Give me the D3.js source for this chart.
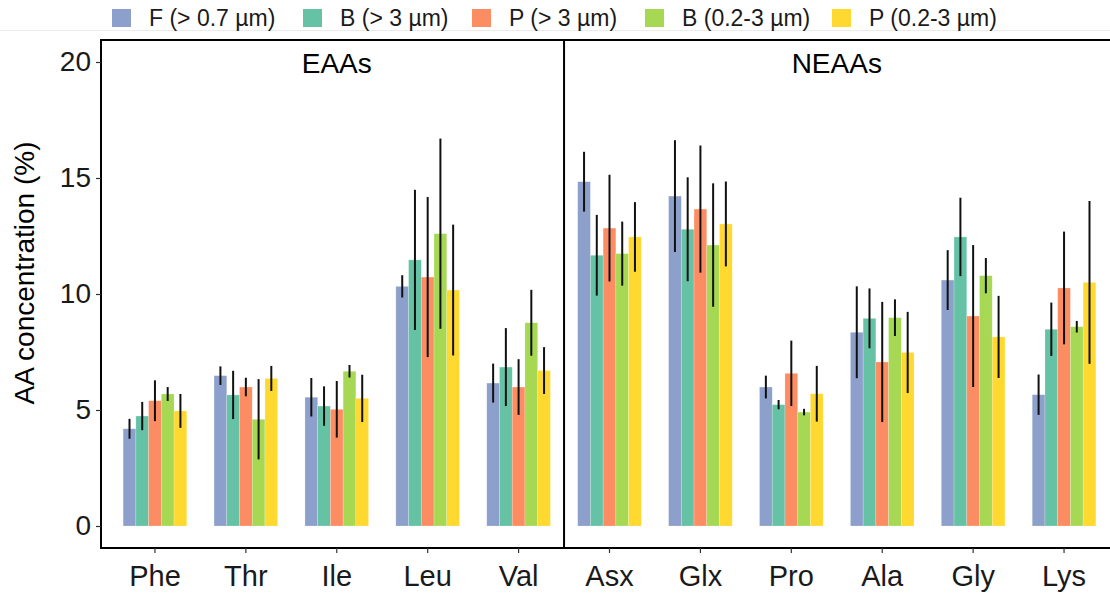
<!DOCTYPE html>
<html>
<head>
<meta charset="utf-8">
<script src="https://cdn.jsdelivr.net/npm/d3@7"></script>
<style>
  body { margin: 0; background: #fff; }
  svg { display: block; font-family: "Liberation Sans", Arial, sans-serif; }
</style>
</head>
<body>
<div id="chart"></div>
<script>
// amino acids on the x axis
const aminoAcids = ["Phe", "Thr", "Ile", "Leu", "Val", "Asx", "Glx", "Pro", "Ala", "Gly", "Lys"];
const seriesNames = ["F (> 0.7 µm)", "B (> 3 µm)", "P (> 3 µm)", "B (0.2-3 µm)", "P (0.2-3 µm)"];
const seriesColors = ["#8DA0CB", "#66C2A5", "#FC8D62", "#A6D854", "#FFD92F"];

// mean concentration (%) for each series, in aminoAcids order
const meanF  = [4.19, 6.48, 5.55, 10.33, 6.16, 14.84, 14.22, 5.99, 8.35, 10.60, 5.66];
const meanB3 = [4.74, 5.65, 5.17, 11.47, 6.85, 11.67, 12.79, 5.23, 8.95, 12.46, 8.48];
const meanP3 = [5.40, 5.99, 5.03, 10.73, 5.99, 12.84, 13.66, 6.58, 7.07, 9.05, 10.26];
const meanB02 = [5.69, 4.60, 6.67, 12.60, 8.76, 11.74, 12.11, 4.91, 8.98, 10.79, 8.59];
const meanP02 = [4.96, 6.36, 5.50, 10.17, 6.70, 12.46, 13.02, 5.70, 7.48, 8.15, 10.50];

// standard deviations (error bars)
const sdF  = [0.43, 0.40, 0.83, 0.48, 0.84, 1.29, 2.41, 0.49, 1.98, 1.29, 0.87];
const sdB3 = [0.61, 1.04, 0.85, 3.02, 1.68, 1.74, 2.24, 0.20, 1.29, 1.69, 1.15];
const sdP3 = [0.88, 0.40, 1.22, 3.45, 1.20, 2.30, 2.74, 1.41, 2.59, 3.06, 2.43];
const sdB02 = [0.30, 1.73, 0.27, 4.10, 1.42, 1.38, 2.66, 0.14, 0.79, 0.76, 0.25];
const sdP02 = [0.73, 0.54, 1.02, 2.82, 1.01, 1.50, 1.83, 1.20, 1.75, 1.77, 3.51];

const yTicks = [0, 5, 10, 15, 20];
const groups = [
  { label: "EAAs", from: "Phe", to: "Val" },
  { label: "NEAAs", from: "Asx", to: "Lys" }
];

const means = [meanF, meanB3, meanP3, meanB02, meanP02];
const sds = [sdF, sdB3, sdP3, sdB02, sdP02];

const rows = [];
aminoAcids.forEach((aa, i) => {
  seriesNames.forEach((s, j) => {
    rows.push({ aa: aa, series: s, k: j, mean: means[j][i], sd: sds[j][i] });
  });
});

const width = 1110, height = 598;
const panel = { left: 101, right: 1118, top: 40, bottom: 548 };

const svg = d3.select("#chart").append("svg")
  .attr("width", width)
  .attr("height", height);

const x = d3.scaleBand()
  .domain(aminoAcids)
  .range([109.5, 1109.5])
  .paddingInner(0.3)
  .paddingOuter(0.15);

const xs = d3.scaleBand()
  .domain(seriesNames)
  .range([0, x.bandwidth()]);

const y = d3.scaleLinear().domain([0, 20]).range([526, 62]);

// legend strip
svg.append("line")
  .attr("x1", 0).attr("x2", width)
  .attr("y1", 30.5).attr("y2", 30.5)
  .attr("stroke", "#ececec");

const legendKeyX = [112, 303, 472, 645, 832];
const legend = svg.append("g").selectAll("g")
  .data(seriesNames)
  .join("g")
  .attr("transform", (d, i) => `translate(${legendKeyX[i]},0)`);
legend.append("rect")
  .attr("x", 0).attr("y", 9)
  .attr("width", 19).attr("height", 18)
  .attr("fill", (d, i) => seriesColors[i]);
legend.append("text")
  .attr("x", 37).attr("y", 26)
  .attr("font-size", 23)
  .attr("fill", "#1a1a1a")
  .text(d => d);

// bars
svg.append("g").selectAll("rect")
  .data(rows)
  .join("rect")
  .attr("x", d => x(d.aa) + xs(d.series))
  .attr("y", d => y(d.mean))
  .attr("width", xs.bandwidth())
  .attr("height", d => y(0) - y(d.mean))
  .attr("fill", d => seriesColors[d.k])
  .attr("stroke", "#fff")
  .attr("stroke-opacity", 0.35)
  .attr("stroke-width", 0.6);

// error bars
svg.append("g").selectAll("line")
  .data(rows)
  .join("line")
  .attr("x1", d => x(d.aa) + xs(d.series) + xs.bandwidth() / 2)
  .attr("x2", d => x(d.aa) + xs(d.series) + xs.bandwidth() / 2)
  .attr("y1", d => y(d.mean + d.sd))
  .attr("y2", d => y(d.mean - d.sd))
  .attr("stroke", "#111")
  .attr("stroke-width", 2);

// panel border + divider
svg.append("rect")
  .attr("x", panel.left).attr("y", panel.top)
  .attr("width", panel.right - panel.left)
  .attr("height", panel.bottom - panel.top)
  .attr("fill", "none")
  .attr("stroke", "#000")
  .attr("stroke-width", 2);

const divX = (x("Val") + x("Asx") + x.bandwidth()) / 2;
svg.append("line")
  .attr("x1", divX).attr("x2", divX)
  .attr("y1", panel.top).attr("y2", panel.bottom)
  .attr("stroke", "#000")
  .attr("stroke-width", 2);

// group labels
svg.append("g").selectAll("text")
  .data(groups)
  .join("text")
  .attr("x", d => (x(d.from) + x(d.to) + x.bandwidth()) / 2)
  .attr("y", 73)
  .attr("text-anchor", "middle")
  .attr("font-size", 28)
  .attr("fill", "#000")
  .text(d => d.label);

// y axis
const yAxis = svg.append("g")
  .attr("transform", `translate(${panel.left},0)`)
  .call(d3.axisLeft(y).tickValues(yTicks).tickSize(5).tickPadding(5));
yAxis.select(".domain").remove();
yAxis.selectAll("line").attr("stroke", "#333").attr("stroke-width", 1.2);
yAxis.selectAll("text")
  .attr("font-size", 28)
  .attr("font-family", "Liberation Sans, Arial, sans-serif")
  .attr("fill", "#1a1a1a");

// x axis
const xAxis = svg.append("g")
  .attr("transform", `translate(0,${panel.bottom})`)
  .call(d3.axisBottom(x).tickSize(5).tickPadding(12));
xAxis.select(".domain").remove();
xAxis.selectAll("line").attr("stroke", "#333").attr("stroke-width", 1.2);
xAxis.selectAll("text")
  .attr("font-size", 29)
  .attr("font-family", "Liberation Sans, Arial, sans-serif")
  .attr("fill", "#1a1a1a");

// y axis title
svg.append("text")
  .attr("transform", "translate(34,273) rotate(-90)")
  .attr("text-anchor", "middle")
  .attr("font-size", 28)
  .attr("fill", "#000")
  .text("AA concentration (%)");
</script>
</body>
</html>
